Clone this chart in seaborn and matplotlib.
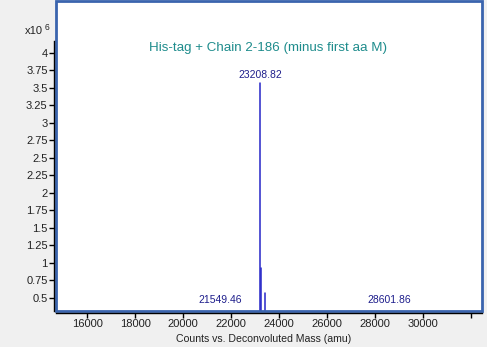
import numpy as np
import pandas as pd
import matplotlib
matplotlib.use("Agg")
import matplotlib.pyplot as plt
import seaborn as sns
from matplotlib.patches import Rectangle

# ---- data (counts in units of 10^6) ----
peak_masses = [21549.46, 23208.82, 23245.0, 23390.0, 28601.86]
peak_heights = [0.05, 3.57, 0.92, 0.57, 0.04]
labeled_masses = [21549.46, 23208.82, 28601.86]
label_texts = ["21549.46", "23208.82", "28601.86"]
x_tick_values = [16000, 18000, 20000, 22000, 24000, 26000, 28000, 30000, 32000]
x_tick_labels = ["16000", "18000", "20000", "22000", "24000", "26000", "28000", "30000", ""]
y_tick_values = [0.5, 0.75, 1, 1.25, 1.5, 1.75, 2, 2.25, 2.5, 2.75, 3, 3.25, 3.5, 3.75, 4]
y_tick_labels = ["0.5", "0.75", "1", "1.25", "1.5", "1.75", "2", "2.25", "2.5", "2.75",
                 "3", "3.25", "3.5", "3.75", "4"]
title = "His-tag + Chain 2-186 (minus first aa M)"
xlabel = "Counts vs. Deconvoluted Mass (amu)"

sns.set_theme(style="white")
plt.rcParams["font.family"] = ["Liberation Sans", "DejaVu Sans"]

W, H = 487, 347
fig = plt.figure(figsize=(W / 100, H / 100), dpi=100, facecolor="#f0f0f0")
ax = fig.add_axes([56 / W, 36 / H, 426 / W, 310 / H])
ax.set_facecolor("white")

# stick spectrum built from the peak arrays
rows = []
for i, (m, h) in enumerate(zip(peak_masses, peak_heights)):
    rows += [(i, m, 0.0), (i, m, h)]
df = pd.DataFrame(rows, columns=["peak", "mass", "counts"])
sns.lineplot(data=df, x="mass", y="counts", units="peak", estimator=None, sort=False,
             color="#2626c8", lw=1.1, ax=ax, legend=False)

ylo, yhi = 0.31, 4.74
ax.set_xlim(14700, 32450)
ax.set_ylim(ylo, yhi)

for m, t in zip(labeled_masses, label_texts):
    h = peak_heights[peak_masses.index(m)]
    if h > ylo:
        ax.annotate(t, (m, h), xytext=(0, 2), textcoords="offset points",
                    ha="center", va="bottom", fontsize=7.5, color="#1e1e8c")
    else:
        ax.annotate(t, (m, ylo), xytext=(0, 4), textcoords="offset points",
                    ha="center", va="bottom", fontsize=7.5, color="#1e1e8c")

ax.text(0.498, 0.85, title, transform=ax.transAxes, ha="center", va="center",
        fontsize=9.6, color="#1e8c8c")

# frame + axis lines
for s in ["top", "right"]:
    ax.spines[s].set_visible(False)
ax.add_patch(Rectangle((0, 0), 1, 1, transform=ax.transAxes, fill=False,
                       edgecolor="#3a64ae", lw=2, clip_on=False, zorder=5))
ax.spines["left"].set_position(("outward", 1.5))
ax.spines["left"].set_bounds(ylo, 4.17)
ax.spines["bottom"].set_position(("outward", 1.6))
ax.spines["bottom"].set_bounds(14700, 32450)
for s in ["left", "bottom"]:
    ax.spines[s].set_color("black")
    ax.spines[s].set_linewidth(1)
    ax.spines[s].set_zorder(6)

ax.set_xticks(x_tick_values)
ax.set_xticklabels(x_tick_labels)
ax.set_yticks(y_tick_values)
ax.set_yticklabels(y_tick_labels)
ax.tick_params(axis="both", which="major", left=True, bottom=True, direction="out",
               length=3.5, width=1, color="black", labelsize=8, pad=1,
               labelcolor="#222222")
ax.set_xlabel("")
ax.set_ylabel("")

fig.text(264 / W, 1 - 339 / H, xlabel, ha="center", va="center", fontsize=7.6, color="#222222")
fig.text(43 / W, 1 - 31 / H, "x10", ha="right", va="center", fontsize=8, color="#222222")
fig.text(45 / W, 1 - 28 / H, "6", ha="left", va="center", fontsize=6.2, color="#222222")

fig.savefig("out.png", dpi=100, facecolor=fig.get_facecolor())
